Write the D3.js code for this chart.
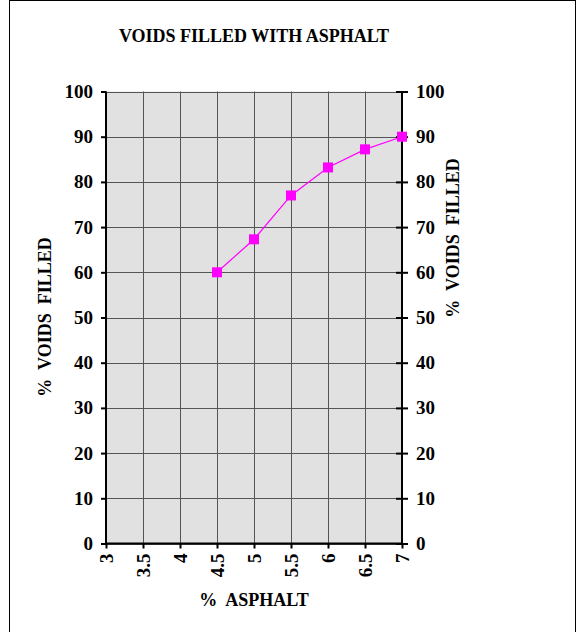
<!DOCTYPE html>
<html><head><meta charset="utf-8">
<script src="https://cdn.jsdelivr.net/npm/d3@7"></script>
<style>body{margin:0;background:#fff}svg text{font-family:"Liberation Serif","Times New Roman",serif;font-weight:bold}</style>
</head><body><svg id="c" width="582" height="632"></svg>
<script>
const asphalt = [4.5, 5, 5.5, 6, 6.5, 7];
const voidsFilled = [60, 67.3, 77, 83.2, 87.2, 90];
const xTicks = [3, 3.5, 4, 4.5, 5, 5.5, 6, 6.5, 7];
const yTicks = [0, 10, 20, 30, 40, 50, 60, 70, 80, 90, 100];
const title = "VOIDS FILLED WITH ASPHALT";
const xTitle = "%  ASPHALT";
const yTitle = "%  VOIDS  FILLED";

const svg = d3.select("#c");
svg.append("rect").attr("x",9.5).attr("y",0.5).attr("width",566).attr("height",632).attr("fill","#fff").attr("stroke","#000");

const L=106,R=402,T=91.5,B=543.5;
const x = d3.scaleLinear().domain([3,7]).range([L,R]);
const y = d3.scaleLinear().domain([0,100]).range([B,T]);

svg.append("rect").attr("x",L).attr("y",T).attr("width",R-L).attr("height",B-T).attr("fill","#e1e1e1");

const grid = svg.append("g").attr("stroke","#555").attr("stroke-width",1);
xTicks.forEach(t=>grid.append("line").attr("x1",Math.round(x(t))+0.5).attr("x2",Math.round(x(t))+0.5).attr("y1",T).attr("y2",B));
yTicks.forEach(t=>grid.append("line").attr("y1",Math.round(y(t))+0.5).attr("y2",Math.round(y(t))+0.5).attr("x1",L).attr("x2",R));

const fmt = d=>String(d);
const gl = svg.append("g").attr("transform",`translate(${L},0)`).call(d3.axisLeft(y).tickValues(yTicks).tickFormat(fmt).tickSize(5).tickPadding(8));
const gr = svg.append("g").attr("transform",`translate(${R},0)`).call(d3.axisRight(y).tickValues(yTicks).tickFormat(fmt).tickSize(5).tickPadding(9));
gr.selectAll(".tick line").attr("x1",-6).attr("x2",6);
const gb = svg.append("g").attr("transform",`translate(0,${B})`).call(d3.axisBottom(x).tickValues(xTicks).tickFormat(fmt).tickSize(5));
gb.selectAll(".tick text").attr("transform","rotate(-90)").attr("text-anchor","end").attr("x",-10).attr("y",0).attr("dy","0.35em");
[gl,gr,gb].forEach(g=>{g.selectAll("text").attr("font-size",19).attr("fill","#000");g.selectAll("path,line").attr("stroke","#000").attr("stroke-width",2);g.select(".domain").attr("stroke-width",2);});
gb.select(".domain").attr("d",`M${L},0H${R}`);
gl.select(".domain").attr("d",`M0,${B}V${T}`);
gr.select(".domain").attr("d",`M0,${B}V${T}`);

svg.append("path").datum(asphalt.map((a,i)=>[a,voidsFilled[i]]))
  .attr("d",d3.line().x(d=>x(d[0])).y(d=>y(d[1]))).attr("fill","none").attr("stroke","#ff00ff").attr("stroke-width",1.2);
svg.selectAll(".m").data(asphalt.map((a,i)=>[a,voidsFilled[i]])).enter().append("rect")
  .attr("x",d=>x(d[0])-5).attr("y",d=>y(d[1])-5).attr("width",10).attr("height",10).attr("fill","#ff00ff");

svg.append("text").attr("x",254).attr("y",42).attr("text-anchor","middle").attr("font-size",18).text(title);
svg.append("text").attr("x",254).attr("y",606).attr("text-anchor","middle").attr("font-size",18).text(xTitle).attr("xml:space","preserve");
svg.append("text").attr("transform","translate(51,317) rotate(-90)").attr("text-anchor","middle").attr("font-size",18).attr("xml:space","preserve").text(yTitle);
svg.append("text").attr("transform","translate(459,238) rotate(-90)").attr("text-anchor","middle").attr("font-size",18).attr("xml:space","preserve").text(yTitle);
</script></body></html>
